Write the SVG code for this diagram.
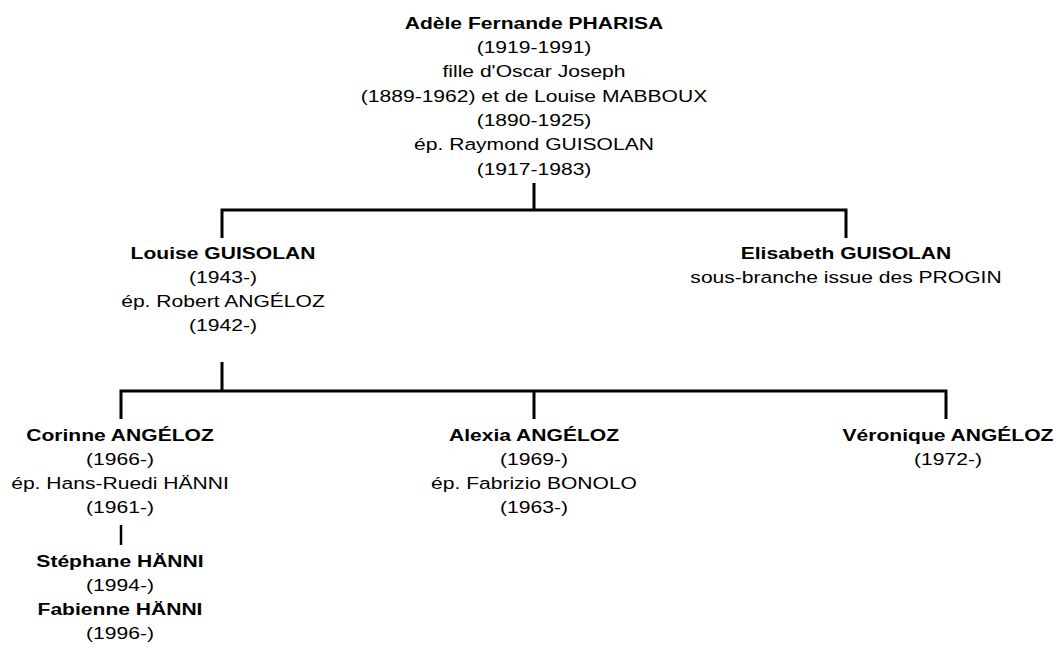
<svg xmlns="http://www.w3.org/2000/svg" width="1058" height="650" viewBox="0 0 1058 650">
<style>
text{font-family:"Liberation Sans",Arial,sans-serif;font-size:17px;fill:#000;text-anchor:middle}
.b{font-weight:bold}
.c{stroke:#000;stroke-width:3;fill:none}
.t{stroke:#000;stroke-width:2.5;fill:none}
</style>
<g id="connectors">
<path class="c" d="M534 183V210M222 238V210H846V238"/>
<path class="c" d="M222 362V391M121 419V391H946V419M534 391V419"/>
<path class="t" d="M121 525V545"/>
</g>
<g id="adele" transform="translate(534 0) scale(1.24 1)">
<text class="b" x="0" y="29">Adèle Fernande PHARISA</text>
<text x="0" y="53">(1919-1991)</text>
<text x="0" y="77.5">fille d'Oscar Joseph</text>
<text x="0" y="102">(1889-1962) et de Louise MABBOUX</text>
<text x="0" y="126">(1890-1925)</text>
<text x="0" y="150.5">ép. Raymond GUISOLAN</text>
<text x="0" y="175">(1917-1983)</text>
</g>
<g id="louise" transform="translate(223 0) scale(1.24 1)">
<text class="b" x="0" y="259">Louise GUISOLAN</text>
<text x="0" y="283">(1943-)</text>
<text x="0" y="307">ép. Robert ANGÉLOZ</text>
<text x="0" y="331">(1942-)</text>
</g>
<g id="elisabeth" transform="translate(846 0) scale(1.24 1)">
<text class="b" x="0" y="259">Elisabeth GUISOLAN</text>
<text x="0" y="283">sous-branche issue des PROGIN</text>
</g>
<g id="corinne" transform="translate(120 0) scale(1.24 1)">
<text class="b" x="0" y="441">Corinne ANGÉLOZ</text>
<text x="0" y="465">(1966-)</text>
<text x="0" y="489">ép. Hans-Ruedi HÄNNI</text>
<text x="0" y="513">(1961-)</text>
</g>
<g id="stephane" transform="translate(120 0) scale(1.24 1)">
<text class="b" x="0" y="567">Stéphane HÄNNI</text>
<text x="0" y="591">(1994-)</text>
</g>
<g id="fabienne" transform="translate(120 0) scale(1.24 1)">
<text class="b" x="0" y="615">Fabienne HÄNNI</text>
<text x="0" y="639">(1996-)</text>
</g>
<g id="alexia" transform="translate(534 0) scale(1.24 1)">
<text class="b" x="0" y="441">Alexia ANGÉLOZ</text>
<text x="0" y="465">(1969-)</text>
<text x="0" y="489">ép. Fabrizio BONOLO</text>
<text x="0" y="513">(1963-)</text>
</g>
<g id="veronique" transform="translate(948 0) scale(1.24 1)">
<text class="b" x="0" y="441">Véronique ANGÉLOZ</text>
<text x="0" y="465">(1972-)</text>
</g>
</svg>
